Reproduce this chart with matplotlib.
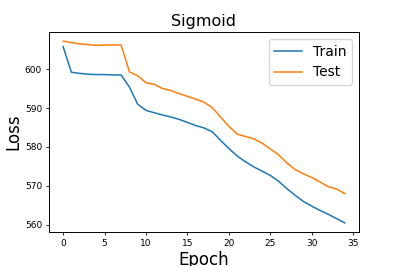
import numpy as np
import matplotlib
matplotlib.use("Agg")
import matplotlib.pyplot as plt

epochs = list(range(35))

train_loss = [605.8, 599.2, 598.9, 598.7, 598.6, 598.6, 598.5, 598.5, 595.4, 591.0,
              589.4, 588.8, 588.2, 587.7, 587.1, 586.3, 585.5, 584.9, 583.9, 581.7,
              579.6, 577.7, 576.2, 574.9, 573.8, 572.7, 571.2, 569.3, 567.6, 566.0,
              564.8, 563.7, 562.7, 561.6, 560.5]

test_loss = [607.2, 606.8, 606.5, 606.3, 606.1, 606.2, 606.2, 606.2, 599.3, 598.3,
             596.5, 596.1, 595.0, 594.5, 593.7, 593.0, 592.3, 591.5, 590.1, 587.7,
             585.3, 583.3, 582.7, 582.1, 581.0, 579.5, 578.0, 575.9, 574.2, 573.1,
             572.2, 571.0, 569.8, 569.2, 568.0]

fig = plt.figure(figsize=(3.99, 2.66), dpi=100)
ax = fig.add_subplot(111)
fig.subplots_adjust(left=49/399, right=359/399, top=1-32/266, bottom=1-232/266)

ax.plot(epochs, train_loss, label='Train', lw=1.1)
ax.plot(epochs, test_loss, label='Test', lw=1.1)

ax.set_title('Sigmoid', fontsize=11.5, pad=4)
ax.set_xlabel('Epoch', fontsize=12, labelpad=2)
ax.set_ylabel('Loss', fontsize=12, labelpad=2)
ax.set_xticks([0, 5, 10, 15, 20, 25, 30, 35])
ax.set_yticks([560, 570, 580, 590, 600])
ax.tick_params(labelsize=6.5, length=2.5, width=0.6, pad=2.5)
for s in ax.spines.values():
    s.set_linewidth(0.7)
ax.legend(loc='upper right', fontsize=10)

fig.savefig('out.png', dpi=100)
